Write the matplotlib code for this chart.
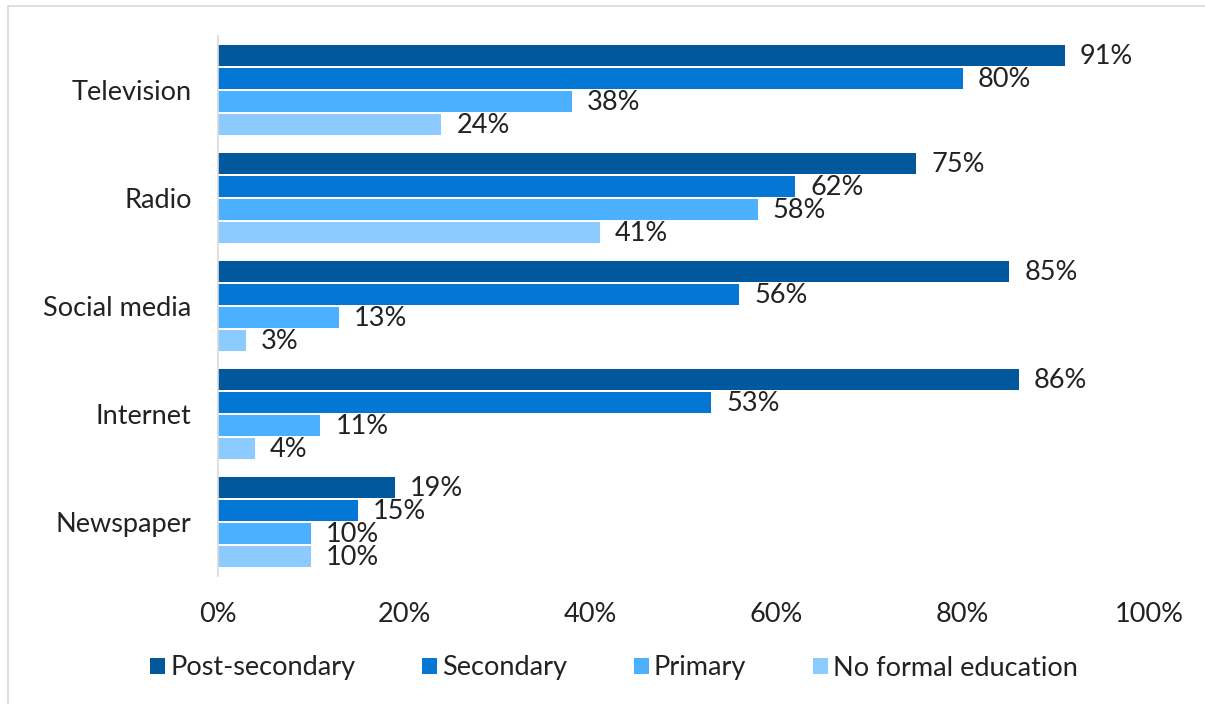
import numpy as np
import matplotlib.pyplot as plt
from matplotlib.patches import Rectangle

# Data ########################################################################
categories = ['Television', 'Radio', 'Social media', 'Internet', 'Newspaper']
series_names = ['Post-secondary', 'Secondary', 'Primary', 'No formal education']
post_secondary = [91, 75, 85, 86, 19]
secondary = [80, 62, 56, 53, 15]
primary = [38, 58, 13, 11, 10]
no_formal = [24, 41, 3, 4, 10]
x_ticks = [0, 20, 40, 60, 80, 100]

colors = ['#02589C', '#0476D4', '#4BB0FF', '#8BCBFF']
series = [post_secondary, secondary, primary, no_formal]

plt.rcParams['font.family'] = ['Lato', 'DejaVu Sans']
FS = 19.5

# Canvas ######################################################################
fig = plt.figure(figsize=(12.05, 7.04), dpi=100)
ax = fig.add_axes([218 / 1205, 1 - 576 / 704, 931 / 1205, 540 / 704])

# outer frame
fig.patches.append(Rectangle((8 / 1205, -0.01), 1.0, 1 - 6 / 704 + 0.01,
                             transform=fig.transFigure, fill=False,
                             ec='#D9D9D9', lw=1.2))

step = 0.213
height = 0.195
y0 = np.arange(len(categories))
for k, (vals, name, col) in enumerate(zip(series, series_names, colors)):
    ys = y0 + (k - 1.5) * step
    ax.barh(ys, vals, height=height, color=col, label=name)
    for y, v in zip(ys, vals):
        ax.text(v + 1.6, y + 0.01, f'{v}%', va='center', ha='left',
                fontsize=FS, color='#222222')

ax.set_ylim(len(categories) - 0.5, -0.5)
ax.set_xlim(0, 100)
ax.set_yticks(y0)
ax.set_yticklabels(categories, fontsize=FS, color='#222222')
ax.set_xticks(x_ticks)
ax.set_xticklabels([f'{t}%' for t in x_ticks], fontsize=FS, color='#222222')
ax.tick_params(axis='both', length=0)
ax.tick_params(axis='y', pad=19)
ax.tick_params(axis='x', pad=19)

for s in ['top', 'right', 'bottom']:
    ax.spines[s].set_visible(False)
ax.spines['left'].set_color('#D9D9D9')
ax.spines['left'].set_linewidth(1.2)

fig.legend(loc='center', bbox_to_anchor=(614 / 1205, 1 - 668 / 704), ncol=4,
           frameon=False, fontsize=FS, handlelength=0.55, handleheight=0.55,
           handletextpad=0.2, columnspacing=2.45, labelcolor='#222222')

fig.savefig('out.png', dpi=100)
plt.close()
